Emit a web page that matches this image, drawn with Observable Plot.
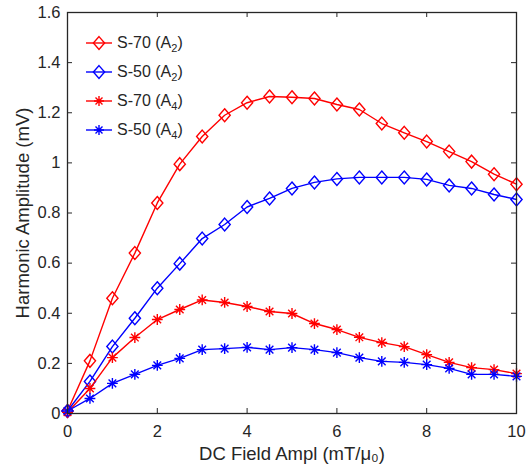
<!DOCTYPE html>
<html><head><meta charset="utf-8">
<script src="https://cdn.jsdelivr.net/npm/d3@7"></script>
<script src="https://cdn.jsdelivr.net/npm/@observablehq/plot@0.6"></script>
<style>
body{margin:0;background:#fff;}
#wrap{position:relative;width:532px;height:473px;font-family:"Liberation Sans",Arial,sans-serif;}
#legend{position:absolute;left:85px;top:28px;font-size:16px;color:#262626;}
.row{display:flex;align-items:center;height:29px;white-space:nowrap;}
.row svg{margin-right:4px;}
.row sub{font-size:11px;vertical-align:-4px;line-height:0;}
</style></head><body><div id="wrap"></div>
<script>
// ---- data ----
const field = [0,0.5,1,1.5,2,2.5,3,3.5,4,4.5,5,5.5,6,6.5,7,7.5,8,8.5,9,9.5,10];
const s70A2 = [0.01,0.21,0.46,0.64,0.84,0.995,1.105,1.19,1.24,1.265,1.262,1.257,1.233,1.213,1.157,1.12,1.085,1.045,1.005,0.955,0.915];
const s50A2 = [0.01,0.128,0.267,0.38,0.50,0.598,0.698,0.754,0.824,0.858,0.898,0.922,0.936,0.942,0.942,0.942,0.934,0.91,0.898,0.874,0.854];
const s70A4 = [0.005,0.10,0.223,0.303,0.375,0.415,0.453,0.443,0.427,0.407,0.399,0.359,0.335,0.304,0.283,0.267,0.235,0.204,0.183,0.175,0.159];
const s50A4 = [0.01,0.06,0.12,0.156,0.192,0.22,0.255,0.259,0.264,0.255,0.263,0.255,0.243,0.223,0.208,0.204,0.195,0.18,0.156,0.156,0.148];
const seriesKeys = ["S-70 (A2)","S-50 (A2)","S-70 (A4)","S-50 (A4)"];
const seriesLabels = ["S-70 (A<sub>2</sub>)","S-50 (A<sub>2</sub>)","S-70 (A<sub>4</sub>)","S-50 (A<sub>4</sub>)"];
const seriesValues = [s70A2, s50A2, s70A4, s50A4];
const seriesColors = ["#ff0000","#0000ff","#ff0000","#0000ff"];
const seriesMarkers = ["diamond","diamond","star","star"];
const xTicks = [0,2,4,6,8,10];
const yTicks = [0,0.2,0.4,0.6,0.8,1,1.2,1.4,1.6];
const yTickLabels = ["0","0.2","0.4","0.6","0.8","1","1.2","1.4","1.6"];
const xTitle = "DC Field Ampl (mT/\u03bc\u2080)";
const yTitle = "Harmonic Amplitude (mV)";

// ---- symbols ----
const diamondSym = {draw(ctx, size){ const r = Math.sqrt(size/Math.PI);
  ctx.moveTo(0,-r*1.15); ctx.lineTo(r,0); ctx.lineTo(0,r*1.15); ctx.lineTo(-r,0); ctx.closePath(); }};
const starSym = {draw(ctx, size){ const r = Math.sqrt(size/Math.PI);
  for (let k=0;k<4;k++){ const a=k*Math.PI/4; ctx.moveTo(r*Math.cos(a), r*Math.sin(a)); ctx.lineTo(-r*Math.cos(a), -r*Math.sin(a)); } }};
const symFor = m => m === "diamond" ? diamondSym : starSym;

const W = 532, H = 473, mL = 67, mR = 16, mT = 12, mB = 60;
const plotW = W - mL - mR, plotH = H - mT - mB;
const ink = "#262626";

const seriesMarks = seriesKeys.flatMap((key, i) => {
  const rows = field.map((f, j) => ({x: f, y: seriesValues[i][j]}));
  return [
    Plot.line(rows, {x: "x", y: "y", stroke: seriesColors[i], strokeWidth: 1.4}),
    Plot.dot(rows, {x: "x", y: "y", stroke: seriesColors[i], fill: "none", strokeWidth: 1.4,
      symbol: symFor(seriesMarkers[i]), r: seriesMarkers[i] === "diamond" ? 5.6 : 5.4})
  ];
});

const chart = Plot.plot({
  width: W, height: H, marginLeft: mL, marginRight: mR, marginTop: mT, marginBottom: mB,
  style: {fontFamily: "'Liberation Sans', Arial, sans-serif", fontSize: "16.5px", color: ink, background: "white", overflow: "visible"},
  x: {domain: [0, 10]},
  y: {domain: [0, 1.6]},
  marks: [
    Plot.axisX({ticks: xTicks, tickSize: 0, tickPadding: 12, label: null, fill: ink}),
    Plot.axisY({ticks: yTicks, tickSize: 0, tickPadding: 7, label: null, fill: ink,
      tickFormat: d => yTickLabels[yTicks.indexOf(d)]}),
    Plot.tickX(xTicks, {x: d => d, insetTop: plotH - 5, stroke: ink}),
    Plot.tickX(xTicks, {x: d => d, insetBottom: plotH - 5, stroke: ink}),
    Plot.tickY(yTicks, {y: d => d, insetRight: plotW - 5, stroke: ink}),
    Plot.tickY(yTicks, {y: d => d, insetLeft: plotW - 5, stroke: ink}),
    ...seriesMarks,
    Plot.frame({stroke: ink, strokeWidth: 1.3}),
    Plot.text([xTitle], {frameAnchor: "bottom", textAnchor: "middle", dy: 46, fontSize: 18.5, fill: ink}),
    Plot.text([yTitle], {frameAnchor: "left", textAnchor: "middle", rotate: -90, dx: -44, fontSize: 18.5, fill: ink})
  ]
});
const wrap = document.getElementById("wrap");
wrap.appendChild(chart);

// ---- legend ----
const legend = document.createElement("div");
legend.id = "legend";
seriesKeys.forEach((key, i) => {
  const row = document.createElement("div");
  row.className = "row";
  const c = seriesColors[i];
  const glyph = seriesMarkers[i] === "diamond"
    ? `<path d="M14,2.6L19.6,9L14,15.4L8.4,9Z" fill="none" stroke="${c}" stroke-width="1.4"/>`
    : `<path d="M9,9H19M14,4V14M10.5,5.5L17.5,12.5M10.5,12.5L17.5,5.5" fill="none" stroke="${c}" stroke-width="1.4"/>`;
  row.innerHTML = `<svg width="28" height="18"><line x1="1" x2="27" y1="9" y2="9" stroke="${c}" stroke-width="1.4"/>${glyph}</svg><span>${seriesLabels[i]}</span>`;
  legend.appendChild(row);
});
wrap.appendChild(legend);
</script></body></html>
